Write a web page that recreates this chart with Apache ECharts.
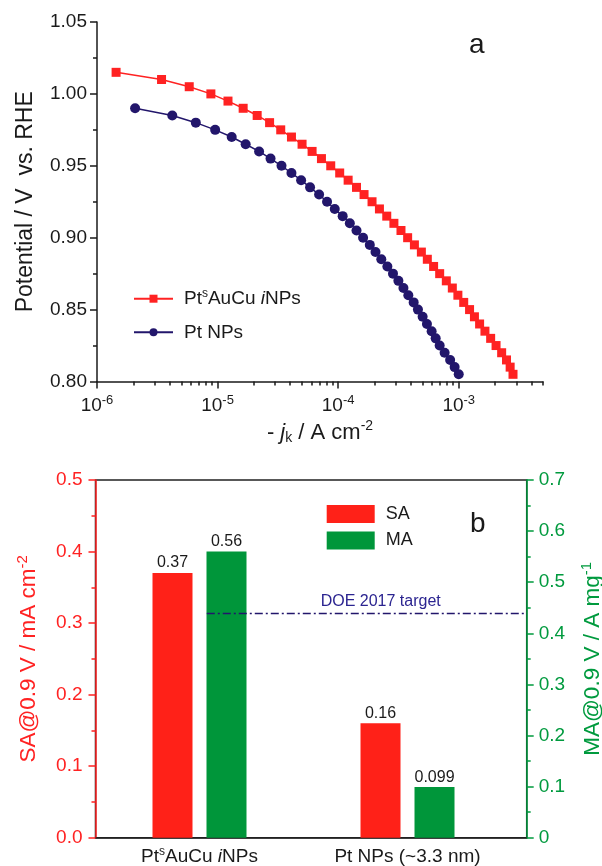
<!DOCTYPE html>
<html>
<head>
<meta charset="utf-8">
<script src="https://cdn.jsdelivr.net/npm/echarts@6/dist/echarts.min.js"></script>
<style>
  html, body { margin: 0; padding: 0; background: #fff; }
  #chart { width: 602px; height: 866px; }
</style>
</head>
<body>
<div id="chart"></div>
<script>
// ---- Panel a: potential vs kinetic current density (log scale) ----
const sepPotential = [1.015, 1.010, 1.005, 1.000, 0.995, 0.990, 0.985, 0.980, 0.975, 0.970,
  0.965, 0.960, 0.955, 0.950, 0.945, 0.940, 0.935, 0.930, 0.925, 0.920,
  0.915, 0.910, 0.905, 0.900, 0.895, 0.890, 0.885, 0.880, 0.875, 0.870,
  0.865, 0.860, 0.855, 0.850, 0.845, 0.840, 0.835, 0.830, 0.825, 0.820,
  0.815, 0.810, 0.805];
const sepJk = [1.44e-6, 3.43e-6, 5.82e-6, 8.8e-6, 1.22e-5, 1.63e-5, 2.13e-5, 2.70e-5, 3.34e-5, 4.10e-5,
  5.02e-5, 6.08e-5, 7.27e-5, 8.68e-5, 1.03e-4, 1.21e-4, 1.42e-4, 1.64e-4, 1.91e-4, 2.20e-4,
  2.53e-4, 2.90e-4, 3.32e-4, 3.77e-4, 4.29e-4, 4.90e-4, 5.49e-4, 6.19e-4, 6.95e-4, 7.89e-4,
  8.85e-4, 9.84e-4, 1.10e-3, 1.23e-3, 1.35e-3, 1.49e-3, 1.65e-3, 1.84e-3, 2.04e-3, 2.27e-3,
  2.49e-3, 2.67e-3, 2.82e-3];
const ptPotential = [0.990, 0.985, 0.980, 0.975, 0.970, 0.965, 0.960, 0.955, 0.950, 0.945,
  0.940, 0.935, 0.930, 0.925, 0.920, 0.915, 0.910, 0.905, 0.900, 0.895,
  0.890, 0.885, 0.880, 0.875, 0.870, 0.865, 0.860, 0.855, 0.850, 0.845,
  0.840, 0.835, 0.830, 0.825, 0.820, 0.815, 0.810, 0.805];
const ptJk = [2.07e-6, 4.21e-6, 6.6e-6, 9.55e-6, 1.31e-5, 1.71e-5, 2.21e-5, 2.75e-5, 3.39e-5, 4.10e-5,
  4.93e-5, 5.85e-5, 6.95e-5, 8.09e-5, 9.37e-5, 1.09e-4, 1.25e-4, 1.42e-4, 1.61e-4, 1.83e-4,
  2.04e-4, 2.28e-4, 2.56e-4, 2.85e-4, 3.16e-4, 3.48e-4, 3.82e-4, 4.23e-4, 4.59e-4, 5.02e-4,
  5.45e-4, 5.96e-4, 6.44e-4, 6.95e-4, 7.64e-4, 8.49e-4, 9.25e-4, 1.00e-3];
const seriesNames = ['PtˢAuCu iNPs', 'Pt NPs'];
const jkMinorTicks = [2e-6, 3e-6, 4e-6, 5e-6, 6e-6, 7e-6, 8e-6, 9e-6,
  2e-5, 3e-5, 4e-5, 5e-5, 6e-5, 7e-5, 8e-5, 9e-5,
  2e-4, 3e-4, 4e-4, 5e-4, 6e-4, 7e-4, 8e-4, 9e-4,
  2e-3, 3e-3, 4e-3, 5e-3];

// ---- Panel b: specific and mass activity at 0.9 V ----
const catalysts = ['PtˢAuCu iNPs', 'Pt NPs (~3.3 nm)'];
const catalystMarkup = ['{n|Pt}{sup|s}{n|AuCu }{it|i}{n|NPs}', '{n|Pt NPs (~3.3 nm)}'];
const specificActivity = [0.37, 0.16];   // mA cm-2
const massActivity = [0.56, 0.099];      // A mg-1
const doeTarget = 0.44;                  // A mg-1

const FONT = "'Liberation Sans', Arial, sans-serif";
const RED = '#ff2222';
const NAVY = '#22166b';
const GREEN = '#009a3e';
const BAR_RED = '#ff2118';
const BAR_GREEN = '#00963a';
const INK = '#1a1a1a';

const legendMarkup = {
  'PtˢAuCu iNPs': '{n|Pt}{sup|s}{n|AuCu }{it|i}{n|NPs}',
  'Pt NPs': '{n|Pt NPs}'
};

function pairs(xs, ys) { return xs.map((x, i) => [x, ys[i]]); }

const chart = echarts.init(document.getElementById('chart'), null, { renderer: 'canvas' });

const option = {
  animation: false,
  backgroundColor: '#fff',
  textStyle: { fontFamily: FONT },
  grid: [
    { left: 97, top: 22, width: 446, height: 359.5, outerBoundsMode: 'none' },
    { left: 95.5, top: 480, width: 431.2, height: 357.7, show: true, outerBoundsMode: 'none',
      borderColor: '#222', borderWidth: 1.5, backgroundColor: 'transparent' }
  ],
  xAxis: [
    {
      gridIndex: 0, type: 'log', logBase: 10, min: 1e-6, max: 5e-3, position: 'bottom',
      axisLine: { lineStyle: { color: INK, width: 1.5 } },
      axisTick: { length: 7, lineStyle: { color: INK, width: 1.5 } },
      splitLine: { show: false },
      axisLabel: {
        margin: 12, color: INK, fontFamily: FONT,
        showMaxLabel: false,
        formatter: function (v) {
          const e = Math.log10(v);
          if (Math.abs(e - Math.round(e)) > 1e-6) return '';
          return '{b|10}{s|' + Math.round(e) + '}';
        },
        rich: {
          b: { fontSize: 19, fontFamily: FONT, color: INK, lineHeight: 22, verticalAlign: 'bottom' },
          s: { fontSize: 13, fontFamily: FONT, color: INK, lineHeight: 22, verticalAlign: 'top', padding: [0, 0, 6, 0] }
        }
      },
      name: '{n|- }{it|j}{sub|k}{n| / A cm}{sup|-2}',
      nameLocation: 'middle', nameGap: 38,
      nameTextStyle: {
        rich: {
          n: { fontSize: 22, fontFamily: FONT, color: INK, lineHeight: 26 },
          it: { fontSize: 22, fontFamily: FONT, fontStyle: 'italic', color: INK, lineHeight: 26 },
          sub: { fontSize: 14, fontFamily: FONT, color: INK, lineHeight: 26, verticalAlign: 'bottom', padding: [6, 0, 0, 0] },
          sup: { fontSize: 14, fontFamily: FONT, color: INK, lineHeight: 26, verticalAlign: 'top', padding: [0, 0, 8, 0] }
        }
      }
    },
    {
      // minor decade ticks (2..9 within each decade)
      gridIndex: 0, type: 'log', logBase: 10, min: 1e-6, max: 5e-3, position: 'bottom',
      axisLine: { show: false },
      axisLabel: { show: false },
      splitLine: { show: false },
      axisTick: { length: 4, customValues: jkMinorTicks, lineStyle: { color: INK, width: 1.5 } }
    },
    {
      gridIndex: 1, type: 'value', min: 0.5, max: 2.573, position: 'bottom',
      axisLine: { lineStyle: { color: '#222', width: 1.5 } },
      axisTick: { show: false },
      splitLine: { show: false },
      axisLabel: {
        margin: 8, customValues: [1, 2],
        formatter: function (v) { return catalystMarkup[Math.round(v) - 1] || ''; },
        rich: {
          n: { fontSize: 19, fontFamily: FONT, color: INK, lineHeight: 22 },
          it: { fontSize: 19, fontFamily: FONT, fontStyle: 'italic', color: INK, lineHeight: 22 },
          sup: { fontSize: 12, fontFamily: FONT, color: INK, lineHeight: 22, verticalAlign: 'top', padding: [0, 0, 6, 0] }
        }
      }
    }
  ],
  yAxis: [
    {
      gridIndex: 0, type: 'value', min: 0.80, max: 1.05, interval: 0.05,
      axisLine: { show: true, lineStyle: { color: INK, width: 1.5 } },
      axisTick: { show: true, length: 7, lineStyle: { color: INK, width: 1.5 } },
      minorTick: { show: true, splitNumber: 2, length: 4, lineStyle: { color: INK, width: 1.5 } },
      splitLine: { show: false },
      axisLabel: { margin: 10, fontSize: 19, color: INK, fontFamily: FONT,
        formatter: v => v.toFixed(2) },
      name: 'Potential / V  vs. RHE', nameLocation: 'middle', nameGap: 60, nameRotate: 90,
      nameTextStyle: { fontSize: 23, color: INK, fontFamily: FONT }
    },
    {
      gridIndex: 1, type: 'value', position: 'left', min: 0, max: 0.5, interval: 0.1,
      axisLine: { show: true, lineStyle: { color: RED, width: 1.5 } },
      axisTick: { show: true, length: 7, lineStyle: { color: RED, width: 1.5 } },
      minorTick: { show: true, splitNumber: 2, length: 4, lineStyle: { color: RED, width: 1.5 } },
      splitLine: { show: false },
      axisLabel: { margin: 13, fontSize: 19, color: RED, fontFamily: FONT,
        formatter: v => v.toFixed(1) },
      name: '{n|SA@0.9 V / mA cm}{sup|-2}', nameLocation: 'middle', nameGap: 54, nameRotate: 90,
      nameTextStyle: {
        rich: {
          n: { fontSize: 22.5, fontFamily: FONT, color: RED, lineHeight: 26 },
          sup: { fontSize: 15, fontFamily: FONT, color: RED, lineHeight: 26, verticalAlign: 'top', padding: [0, 0, 8, 0] }
        }
      }
    },
    {
      gridIndex: 1, type: 'value', position: 'right', min: 0, max: 0.7, interval: 0.1,
      axisLine: { show: true, lineStyle: { color: GREEN, width: 1.5 } },
      axisTick: { show: true, length: 7, lineStyle: { color: GREEN, width: 1.5 } },
      minorTick: { show: true, splitNumber: 2, length: 4, lineStyle: { color: GREEN, width: 1.5 } },
      splitLine: { show: false },
      axisLabel: { margin: 12, fontSize: 19, color: GREEN, fontFamily: FONT,
        formatter: v => (v === 0 ? '0' : v.toFixed(1)) },
      name: '{n|MA@0.9 V / A mg}{sup|-1}', nameLocation: 'middle', nameGap: 53, nameRotate: 90,
      nameTextStyle: {
        rich: {
          n: { fontSize: 22.5, fontFamily: FONT, color: GREEN, lineHeight: 26 },
          sup: { fontSize: 15, fontFamily: FONT, color: GREEN, lineHeight: 26, verticalAlign: 'top', padding: [0, 0, 8, 0] }
        }
      }
    },
    {
      // hidden mass-activity scale spanning the full frame, used for the target line
      gridIndex: 1, type: 'value', position: 'right', min: 0, max: 0.7, show: false
    }
  ],
  legend: [
    {
      data: seriesNames, orient: 'vertical', left: 133, top: 287.7, padding: 0,
      itemWidth: 39, itemHeight: 10, itemGap: 14.6,
      formatter: name => legendMarkup[name],
      textStyle: {
        padding: [0, 0, 0, 6],
        rich: {
          n: { fontSize: 19, fontFamily: FONT, color: INK, lineHeight: 22 },
          it: { fontSize: 19, fontFamily: FONT, fontStyle: 'italic', color: INK, lineHeight: 22 },
          sup: { fontSize: 12, fontFamily: FONT, color: INK, lineHeight: 22, verticalAlign: 'top', padding: [0, 0, 6, 0] }
        }
      }
    },
    {
      data: ['SA', 'MA'], orient: 'vertical', left: 326.7, top: 505, padding: 0,
      itemWidth: 48, itemHeight: 18, itemGap: 8.4, icon: 'rect',
      textStyle: { fontSize: 18, fontFamily: FONT, color: INK, padding: [0, 0, 0, 6] }
    }
  ],
  series: [
    {
      name: seriesNames[0], type: 'line', xAxisIndex: 0, yAxisIndex: 0,
      data: pairs(sepJk, sepPotential),
      symbol: 'rect', symbolSize: 9,
      itemStyle: { color: RED },
      lineStyle: { color: RED, width: 1.5 }
    },
    {
      name: seriesNames[1], type: 'line', xAxisIndex: 0, yAxisIndex: 0,
      data: pairs(ptJk, ptPotential),
      symbol: 'circle', symbolSize: 10,
      itemStyle: { color: NAVY },
      lineStyle: { color: NAVY, width: 1.5 }
    },
    {
      name: 'SA', type: 'bar', xAxisIndex: 2, yAxisIndex: 1,
      data: specificActivity.map((v, i) => [i + 1, v]),
      barWidth: 40, barGap: '35%',
      itemStyle: { color: BAR_RED },
      label: { show: true, position: 'top', distance: 2, fontSize: 16, color: INK, fontFamily: FONT,
        formatter: p => String(p.value[1]) }
    },
    {
      name: 'MA', type: 'bar', xAxisIndex: 2, yAxisIndex: 2,
      data: massActivity.map((v, i) => [i + 1, v]),
      barWidth: 40, barGap: '35%',
      itemStyle: { color: BAR_GREEN },
      label: { show: true, position: 'top', distance: 2, fontSize: 16, color: INK, fontFamily: FONT,
        formatter: p => String(p.value[1]) }
    },
    {
      // DOE 2017 mass-activity target
      name: 'DOE 2017 target', type: 'line', xAxisIndex: 2, yAxisIndex: 3,
      data: [], showSymbol: false,
      markLine: {
        silent: true, symbol: 'none',
        lineStyle: { color: NAVY, width: 1.3, type: [8, 3, 2, 3] },
        label: {
          show: true, position: 'insideMiddleTop', distance: 3,
          formatter: 'DOE 2017 target', fontSize: 16, color: '#2b2490', fontFamily: FONT,
          padding: [0, 0, 0, 28]
        },
        data: [[{ coord: [1.035, doeTarget] }, { coord: [2.573, doeTarget] }]]
      }
    }
  ],
  graphic: [
    { type: 'text', left: 469, top: 31, style: { text: 'a', font: "28px 'Liberation Sans', Arial", fill: INK } },
    { type: 'text', left: 470, top: 510, style: { text: 'b', font: "28px 'Liberation Sans', Arial", fill: INK } }
  ]
};

chart.setOption(option);
</script>
</body>
</html>
